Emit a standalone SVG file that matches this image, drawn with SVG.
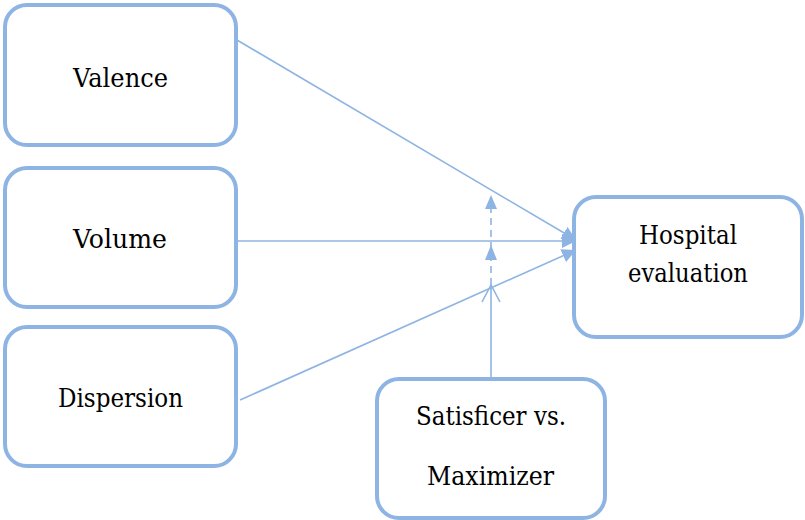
<svg xmlns="http://www.w3.org/2000/svg" width="805" height="520" viewBox="0 0 805 520">
<style>
.box{fill:#fff;stroke:#8EB4E3;stroke-width:4}
text{font-family:'DejaVu Serif',serif;font-size:26px;fill:#000;text-anchor:middle}
.c{stroke:#8EB4E3;stroke-width:1.6;fill:none}
</style>
<defs>
<marker id="ah" viewBox="0 0 10 10" refX="10" refY="5" markerWidth="14" markerHeight="14" markerUnits="userSpaceOnUse" orient="auto"><path d="M0,0 L10,5 L0,10 z" fill="#8EB4E3"/></marker>
</defs>
<rect width="805" height="520" fill="#fff"/>
<g id="connectors">
<line class="c" x1="237" y1="40" x2="576" y2="240" marker-end="url(#ah)"/>
<line class="c" x1="237" y1="241" x2="576" y2="241" marker-end="url(#ah)"/>
<line class="c" x1="240" y1="400" x2="576" y2="250" marker-end="url(#ah)"/>
<line class="c" x1="491" y1="388" x2="491" y2="285"/>
<path class="c" d="M482,302 L491,285 L500,302"/>
<line class="c" x1="491" y1="285" x2="491" y2="208" stroke-dasharray="7,5"/>
<path d="M491,195 L485,209 L497,209 z" fill="#8EB4E3"/>
<path d="M491,245 L485,260 L497,260 z" fill="#8EB4E3"/>
</g>
<g id="valence"><rect class="box" x="5" y="5" width="231" height="140" rx="22"/><text x="120.5" y="87" textLength="95" lengthAdjust="spacingAndGlyphs">Valence</text></g>
<g id="volume"><rect class="box" x="5" y="168" width="231" height="139" rx="22"/><text x="120" y="248" textLength="94" lengthAdjust="spacingAndGlyphs">Volume</text></g>
<g id="dispersion"><rect class="box" x="5" y="327" width="231" height="139" rx="22"/><text x="120.5" y="407" textLength="125" lengthAdjust="spacingAndGlyphs">Dispersion</text></g>
<g id="hospital"><rect class="box" x="574" y="197" width="228" height="140" rx="22"/><text x="688" y="244" textLength="98" lengthAdjust="spacingAndGlyphs">Hospital</text><text x="688" y="282" textLength="120" lengthAdjust="spacingAndGlyphs">evaluation</text></g>
<g id="satisficer"><rect class="box" x="377" y="379" width="228" height="139" rx="22"/><text x="491" y="425" textLength="150" lengthAdjust="spacingAndGlyphs">Satisficer vs.</text><text x="490.5" y="485" textLength="127" lengthAdjust="spacingAndGlyphs">Maximizer</text></g>
</svg>
